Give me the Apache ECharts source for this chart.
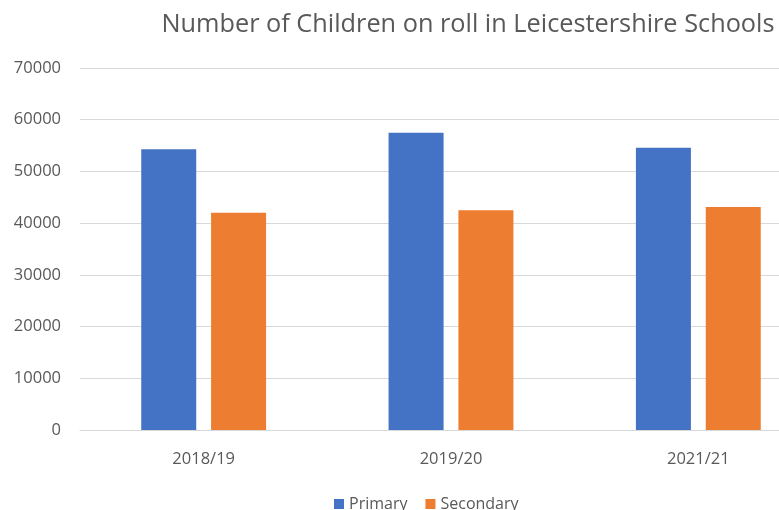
<!DOCTYPE html>
<html><head><meta charset="utf-8">
<script src="https://cdn.jsdelivr.net/npm/echarts@6/dist/echarts.min.js"></script>
<style>html,body{margin:0;padding:0;background:#fff;overflow:hidden;}#w{width:779px;height:510px;overflow:hidden;}#c{width:822px;height:510px;}</style>
</head><body><div id="w"><div id="c"></div></div>
<script>
const categories = ['2018/19', '2019/20', '2021/21'];
const primary = [54300, 57500, 54600];
const secondary = [42000, 42500, 43100];
const yTicks = [0, 10000, 20000, 30000, 40000, 50000, 60000, 70000];

const chart = echarts.init(document.getElementById('c'));
const txt = '#595959';
const font = 'Open Sans';
chart.setOption({
  animation: false,
  title: {
    text: 'Number of Children on roll in Leicestershire Schools',
    left: 463, top: 7, textAlign: 'center',
    textStyle: { fontFamily: font, fontSize: 25.3, fontWeight: 'normal', color: txt }
  },
  legend: {
    top: 491, left: 329, itemWidth: 10, itemHeight: 10, itemGap: 18,
    icon: 'rect',
    textStyle: { fontFamily: font, fontSize: 16, color: txt }
  },
  grid: { left: 80, right: 0, top: 68, bottom: 80 },
  xAxis: {
    type: 'category', data: categories,
    axisLine: { lineStyle: { color: '#d9d9d9' } },
    axisTick: { show: false },
    axisLabel: { fontFamily: font, fontSize: 16.5, color: txt, margin: 21 }
  },
  yAxis: {
    type: 'value', min: yTicks[0], max: yTicks[yTicks.length - 1], interval: 10000,
    axisLine: { show: false }, axisTick: { show: false },
    splitLine: { lineStyle: { color: '#d9d9d9' } },
    axisLabel: { fontFamily: font, fontSize: 16.5, color: txt, margin: 19, formatter: v => String(v) }
  },
  series: [
    { name: 'Primary', type: 'bar', data: primary, barWidth: 55, barGap: '27%', itemStyle: { color: '#4472c4' } },
    { name: 'Secondary', type: 'bar', data: secondary, barWidth: 55, barGap: '27%', itemStyle: { color: '#ed7d31' } }
  ]
});
</script></body></html>
